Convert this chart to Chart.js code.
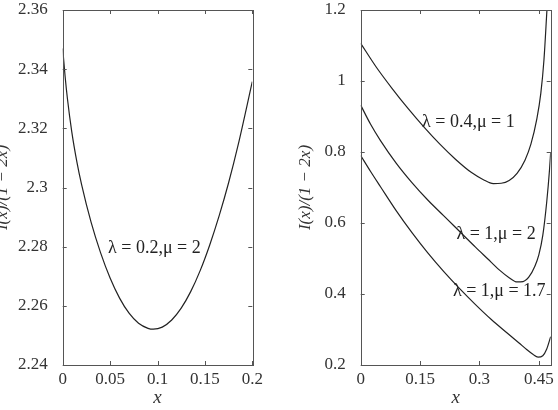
<!DOCTYPE html>
<html>
<head>
<meta charset="utf-8">
<script src="https://cdn.jsdelivr.net/npm/chart.js@4/dist/chart.umd.min.js"></script>
<style>
  html, body { margin: 0; padding: 0; background: #fff; overflow: hidden; }
  body { width: 558px; height: 410px; position: relative; }
  canvas { position: absolute; top: 0; }
</style>
</head>
<body>
<canvas id="leftChart" width="292" height="410" style="left:-12px"></canvas>
<canvas id="rightChart" width="278" height="410" style="left:280px"></canvas>
<script>
// ---- data ----
// left panel: lambda = 0.2, mu = 2
const leftX = [0, 0.0025, 0.005, 0.0095, 0.015, 0.02, 0.03, 0.04, 0.05, 0.06, 0.07, 0.08, 0.09, 0.0956,
    0.105, 0.115, 0.125, 0.135, 0.145, 0.155, 0.165, 0.175, 0.185, 0.2];
const leftY = [2.3470, 2.3377, 2.3300, 2.3190, 2.3086, 2.3009, 2.2882, 2.2779, 2.2694, 2.2626, 2.2575, 2.2541, 2.2524, 2.2521,
    2.2528, 2.2552, 2.2592, 2.2648, 2.2719, 2.2805, 2.2904, 2.3016, 2.3143, 2.3358];
const leftXTicks = [0, 0.05, 0.1, 0.15, 0.2];
const leftXLabels = ['0', '0.05', '0.1', '0.15', '0.2'];
const leftYTicks = [2.24, 2.26, 2.28, 2.30, 2.32, 2.34, 2.36];
const leftYLabels = ['2.24', '2.26', '2.28', '2.3', '2.32', '2.34', '2.36'];

// right panel: three curves
const aX = [0, 0.04, 0.08, 0.12, 0.16, 0.20, 0.24, 0.28, 0.31, 0.335, 0.355, 0.375, 0.395, 0.415, 0.43, 0.445, 0.455, 0.463, 0.4705];
const aY = [1.106, 1.038, 0.978, 0.922, 0.870, 0.822, 0.779, 0.742, 0.722, 0.711, 0.712, 0.720, 0.740, 0.777, 0.822, 0.893, 0.965, 1.06, 1.2];
const bX = [0, 0.025, 0.05, 0.09, 0.13, 0.17, 0.21, 0.25, 0.29, 0.32, 0.35, 0.375, 0.395, 0.41, 0.425, 0.44, 0.45, 0.46, 0.47, 0.477, 0.48];
const bY = [0.932, 0.878, 0.832, 0.768, 0.713, 0.664, 0.620, 0.576, 0.532, 0.500, 0.468, 0.446, 0.434, 0.435, 0.448, 0.478, 0.51, 0.565, 0.66, 0.75, 0.80];
const cX = [0, 0.025, 0.05, 0.09, 0.13, 0.17, 0.21, 0.25, 0.29, 0.33, 0.37, 0.40, 0.42, 0.435, 0.448, 0.46, 0.47, 0.48];
const cY = [0.79, 0.745, 0.702, 0.634, 0.572, 0.515, 0.463, 0.415, 0.370, 0.328, 0.290, 0.262, 0.243, 0.230, 0.222, 0.226, 0.245, 0.28];
const rightXTicks = [0, 0.15, 0.3, 0.45];
const rightXLabels = ['0', '0.15', '0.3', '0.45'];
const rightYTicks = [0.2, 0.4, 0.6, 0.8, 1.0, 1.2];
const rightYLabels = ['0.2', '0.4', '0.6', '0.8', '1', '1.2'];

// curve captions (text, x, y in data units)
const leftNotes = [['λ = 0.2,μ = 2', 0.0967, 2.2794]];
const rightNotes = [
    ['λ = 0.4,μ = 1', 0.272, 0.883],
    ['λ = 1,μ = 2', 0.342, 0.568],
    ['λ = 1,μ = 1.7', 0.35, 0.407]
];

const FONT = "'Liberation Serif', 'DejaVu Serif', serif";
const INK = '#222';
const FRAME = '#555';

function toPoints(xs, ys) {
    return xs.map((x, i) => ({ x: x, y: ys[i] }));
}

// frame with inward ticks on all four sides + captions
const framePlugin = {
    id: 'frame',
    afterDraw(chart, args, opts) {
        const ctx = chart.ctx;
        const area = chart.chartArea;
        const xs = chart.scales.x;
        const ys = chart.scales.y;
        const len = 4;
        ctx.save();
        ctx.strokeStyle = FRAME;
        ctx.lineWidth = 1;
        ctx.strokeRect(Math.round(area.left) + 0.5, Math.round(area.top) + 0.5,
            Math.round(area.right - area.left), Math.round(area.bottom - area.top));
        ctx.beginPath();
        opts.xTicks.forEach(v => {
            const px = Math.round(xs.getPixelForValue(v)) + 0.5;
            ctx.moveTo(px, area.bottom); ctx.lineTo(px, area.bottom - len);
            ctx.moveTo(px, area.top); ctx.lineTo(px, area.top + len);
        });
        opts.yTicks.forEach(v => {
            const py = Math.round(ys.getPixelForValue(v)) + 0.5;
            ctx.moveTo(area.left, py); ctx.lineTo(area.left + len, py);
            ctx.moveTo(area.right, py); ctx.lineTo(area.right - len, py);
        });
        ctx.stroke();

        ctx.fillStyle = INK;
        ctx.font = '18px ' + FONT;
        ctx.textAlign = 'center';
        ctx.textBaseline = 'middle';
        opts.notes.forEach(n => {
            ctx.fillText(n[0], xs.getPixelForValue(n[1]), ys.getPixelForValue(n[2]));
        });
        ctx.restore();
    }
};

function renderPanel(canvasId, cfg) {
    const el = document.getElementById(canvasId);
    if (!el) {
        console.error(`Canvas '${canvasId}' not found`);
        return;
    }
    const datasets = cfg.series.map(s => ({
        data: toPoints(s[0], s[1]),
        borderColor: INK,
        borderWidth: 1.2,
        pointRadius: 0,
        showLine: true,
        fill: false,
        cubicInterpolationMode: 'monotone'
    }));

    return new Chart(el, {
        type: 'scatter',
        data: { datasets: datasets },
        options: {
            responsive: false,
            animation: false,
            events: [],
            layout: { padding: cfg.padding },
            plugins: {
                legend: { display: false },
                tooltip: { enabled: false },
                frame: { xTicks: cfg.xTicks, yTicks: cfg.yTicks, notes: cfg.notes }
            },
            scales: {
                x: {
                    type: 'linear',
                    min: cfg.xMin,
                    max: cfg.xMax,
                    grid: { display: false },
                    border: { display: false },
                    afterBuildTicks: scale => { scale.ticks = cfg.xTicks.map(v => ({ value: v })); },
                    afterFit: scale => {
                        scale.height = 45;
                        scale.paddingLeft = 0;
                        scale.paddingRight = 0;
                    },
                    ticks: {
                        padding: -4,
                        color: '#333',
                        font: { family: FONT, size: 17 },
                        maxRotation: 0,
                        callback: (v, i) => cfg.xLabels[i]
                    },
                    title: {
                        display: true,
                        text: 'x',
                        color: '#333',
                        padding: { top: 4, bottom: 1 },
                        font: { family: FONT, size: 19, style: 'italic' }
                    }
                },
                y: {
                    type: 'linear',
                    min: cfg.yMin,
                    max: cfg.yMax,
                    grid: { display: false },
                    border: { display: false },
                    afterBuildTicks: scale => { scale.ticks = cfg.yTicks.map(v => ({ value: v })); },
                    afterFit: scale => {
                        scale.width = cfg.yWidth;
                        scale.paddingTop = 0;
                        scale.paddingBottom = 0;
                    },
                    ticks: {
                        padding: 7,
                        color: '#333',
                        font: { family: FONT, size: 17 },
                        callback: (v, i) => cfg.yLabels[i]
                    },
                    title: {
                        display: true,
                        text: 'I(x)/(1 − 2x)',
                        color: '#333',
                        padding: { top: 4, bottom: 4 },
                        font: { family: FONT, size: 17, style: 'italic' }
                    }
                }
            }
        },
        plugins: [framePlugin]
    });
}

try {
    renderPanel('leftChart', {
        series: [[leftX, leftY]],
        xMin: 0, xMax: 0.2, yMin: 2.24, yMax: 2.36,
        xTicks: leftXTicks, xLabels: leftXLabels,
        yTicks: leftYTicks, yLabels: leftYLabels,
        notes: leftNotes,
        padding: { top: 10, right: 27.7, left: 0, bottom: 0 },
        yWidth: 74.7
    });
    renderPanel('rightChart', {
        series: [[aX, aY], [bX, bY], [cX, cY]],
        xMin: 0, xMax: 0.48, yMin: 0.2, yMax: 1.2,
        xTicks: rightXTicks, xLabels: rightXLabels,
        yTicks: rightYTicks, yLabels: rightYLabels,
        notes: rightNotes,
        padding: { top: 10, right: 7.3, left: 11, bottom: 0 },
        yWidth: 69.7
    });
} catch (error) {
    console.error('Error rendering charts:', error);
}
</script>
</body>
</html>
